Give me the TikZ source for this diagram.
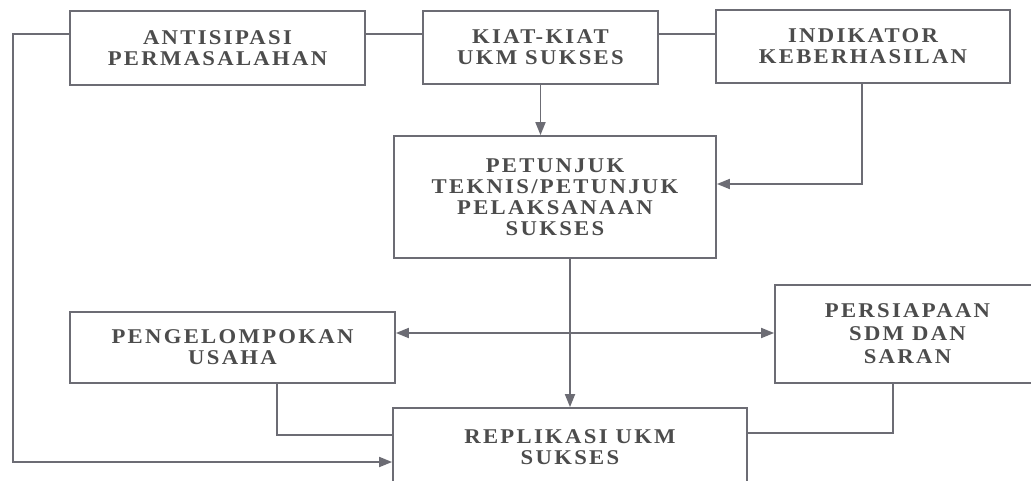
\documentclass[tikz,border=0pt]{standalone}
\usepackage{fontspec}
\setmainfont{Liberation Serif}
\newfontfamily\boxfont[LetterSpace=11,FakeStretch=1.08]{Liberation Serif}
\usetikzlibrary{arrows.meta}
\definecolor{linegray}{HTML}{6C6C74}
\definecolor{textgray}{HTML}{4C4C4C}
\begin{document}
\begin{tikzpicture}[x=1pt,y=1pt,
  box/.style={draw=linegray, line width=1.8pt, fill=white, inner sep=0pt,
    align=center, text=textgray,
    font=\boxfont\bfseries\fontsize{21}{21}\selectfont},
  link/.style={draw=linegray, line width=1.8pt},
  tip/.style={-{Triangle[length=13pt,width=10pt]}},
  twotips/.style={{Triangle[length=13pt,width=10pt]}-{Triangle[length=13pt,width=10pt]}}]
\useasboundingbox (0,0) rectangle (1031,480);
\fill[white] (0,0) rectangle (1031,480);

% boxes (centre, width, height)
\node[box, minimum width=295pt, minimum height=74pt]  (anti) at (217.5,432) {ANTISIPASI\\PERMASALAHAN};
\node[box, minimum width=235pt, minimum height=73pt]  (kiat) at (540.5,432.5) {KIAT-KIAT\\UKM SUKSES};
\node[box, minimum width=294pt, minimum height=73pt]  (indi) at (863,433.5) {INDIKATOR\\KEBERHASILAN};
\node[box, minimum width=322pt, minimum height=122pt] (petu) at (555,283) {PETUNJUK\\TEKNIS/PETUNJUK\\PELAKSANAAN\\SUKSES};
\node[box, minimum width=325pt, minimum height=71pt]  (peng) at (232.5,132.5) {PENGELOMPOKAN\\USAHA};
\node[box, minimum width=265pt, minimum height=98pt, font=\boxfont\bfseries\fontsize{21}{23}\selectfont]  (pers) at (907.5,146) {PERSIAPAAN\\SDM DAN\\SARAN};
\node[box, minimum width=354pt, minimum height=78pt]  (repl) at (570,33) {REPLIKASI UKM\\SUKSES};

% routing points
\coordinate (topline) at (13,446);
\coordinate (leftfoot) at (13,18);
\coordinate (inditurn) at (862,296);
\coordinate (pengdrop) at (277,45);
\coordinate (persdrop) at (893,47);

% connectors
\draw[link] (anti.east |- topline) -- (kiat.west |- topline);
\draw[link] (kiat.east |- topline) -- (indi.west |- topline);
\draw[link, tip] (anti.west |- topline) -- (topline) -- (leftfoot) -- (repl.west |- leftfoot);
\draw[link, tip] (kiat.south) -- (kiat.south |- petu.north);
\draw[link, tip] (indi.south -| inditurn) -- (inditurn) -- (petu.east |- inditurn);
\draw[link, tip] (repl.north |- petu.south) -- (repl.north);
\draw[link, twotips] (peng.east |- 0,147) -- (pers.west |- 0,147);
\draw[link] (peng.south -| pengdrop) -- (pengdrop) -- (repl.west |- pengdrop);
\draw[link] (pers.south -| persdrop) -- (persdrop) -- (repl.east |- persdrop);
\end{tikzpicture}
\end{document}
